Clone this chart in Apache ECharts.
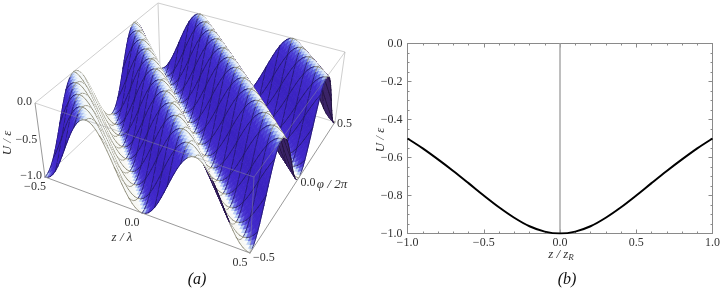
<!DOCTYPE html>
<html>
<head>
<meta charset="utf-8">
<style>html,body{margin:0;padding:0;background:#fff}#c{width:723px;height:288px}#c canvas{filter:blur(0.3px)}</style>
<script src="https://cdn.jsdelivr.net/npm/echarts@6/dist/echarts.min.js"></script>
</head>
<body>
<div id="c"></div>
<script>
// ---------- panel (b) data ----------
const zOverZr = [-1,-0.9,-0.8,-0.7,-0.6,-0.5,-0.4,-0.3,-0.2,-0.1,0,0.1,0.2,0.3,0.4,0.5,0.6,0.7,0.8,0.9,1];
const depthB  = [-0.5,-0.552,-0.61,-0.671,-0.735,-0.8,-0.862,-0.917,-0.962,-0.99,-1,-0.99,-0.962,-0.917,-0.862,-0.8,-0.735,-0.671,-0.61,-0.552,-0.5];
const centreLineX = [0,0];
const centreLineY = [-1,0];
// ---------- panel (a) data ----------
// one period of the corrugation, read across a ridge (valley -> crest -> valley)
const ridgeProfile = [-1,-0.99,-0.962,-0.916,-0.854,-0.778,-0.691,-0.598,-0.5,-0.402,-0.309,-0.222,-0.146,-0.084,-0.038,-0.01,
                      0,-0.01,-0.038,-0.084,-0.146,-0.222,-0.309,-0.402,-0.5,-0.598,-0.691,-0.778,-0.854,-0.916,-0.962,-0.99];
const zTicks3d = [-0.5,0,0.5];
const phiTicks3d = [-0.5,0,0.5];
const uTicks3d = [0,-0.5,-1];

// ---------- 3D view (box corners on the page, with perspective depth) ----------
const view = {
  top:  {a:[35,103,1], b:[254,177,0.9], c:[345,52,1.2], d:[158,3,1.38]},
  base: {a:[45,177,1.07], b:[250,253,0.963], c:[335,122,1.284], d:[160,68,1.477]}
};
const N = 64, MESH = 4;
function proj(z,phi,U){
  const u=z+0.5,v=phi+0.5,h=U+1;
  const ws=[[view.base.a,(1-u)*(1-v)*(1-h)],[view.base.b,u*(1-v)*(1-h)],[view.base.c,u*v*(1-h)],[view.base.d,(1-u)*v*(1-h)],
            [view.top.a,(1-u)*(1-v)*h],[view.top.b,u*(1-v)*h],[view.top.c,u*v*h],[view.top.d,(1-u)*v*h]];
  let x=0,y=0,w=0;
  ws.forEach(e=>{const k=e[1]*e[0][2];x+=k*e[0][0];y+=k*e[0][1];w+=k;});
  return [x/w,y/w];
}
function nodeU(i,j){return ridgeProfile[(i+j)%ridgeProfile.length];}
function nodeP(i,j){return proj(i/N-0.5,j/N-0.5,nodeU(i,j));}

const stops = [[0,[250,252,252]],[0.03,[190,212,246]],[0.06,[110,110,226]],[0.1,[66,42,204]],[0.25,[58,34,192]],[0.39,[66,44,206]],[0.44,[100,110,226]],
  [0.48,[195,218,248]],[0.52,[245,248,250]],[1,[248,248,244]]];
function shade(t){
  for(let k=1;k<stops.length;k++){
    if(t<=stops[k][0]){
      const a=stops[k-1],b=stops[k],f=(t-a[0])/(b[0]-a[0]);
      return 'rgb('+a[1].map((c,n)=>Math.round(c+(b[1][n]-c)*f)).join(',')+')';
    }
  }
  return 'rgb(248,248,244)';
}
// painter's order: far row first, each row left to right
const rows=[];
for(let j=N-1;j>=0;j--)rows.push([j]);

function renderRow(params,api){
  const j=api.value(0);
  const fills=[],lines=[];
  for(let i=0;i<N;i++){
    const P=[[i,j],[i+1,j],[i+1,j+1],[i,j+1]].map(n=>api.coord(nodeP(n[0],n[1])));
    let area=0;
    for(let k=0;k<4;k++){const a=P[k],b=P[(k+1)%4];area+=a[0]*b[1]-b[0]*a[1];}
    const t=((i+j+1)%ridgeProfile.length)/ridgeProfile.length;
    const under=area>0;
    const fill=under?'#3b2468':shade(t);
    const meshCol=under?'#20103a':((t>0.45&&t<0.98)||t<0.03?'#85836f':'#221866');
    fills.push({type:'polygon',shape:{points:P},style:{fill:fill,stroke:fill,lineWidth:0.9,lineJoin:'round'}});
    const seg=(a,b)=>lines.push({type:'line',shape:{x1:a[0],y1:a[1],x2:b[0],y2:b[1]},style:{stroke:meshCol,lineWidth:0.8,lineCap:'round'}});
    if((j+1)%MESH===0)seg(P[3],P[2]);
    if(i%MESH===0)seg(P[0],P[3]);
    if(j===0)seg(P[0],P[1]);
    if(i===N-1)seg(P[1],P[2]);
  }
  return {type:'group',children:fills.concat(lines)};
}
const c3=(q)=>[q[0],q[1]];
const V=view;
const boxEdges=[[V.top.a,V.top.d],[V.top.d,V.top.c],[V.top.c,V.base.c],[V.top.d,V.base.d],[V.base.a,V.base.d],[V.base.d,V.base.c]];
const frontEdges=[[V.top.a,V.top.b],[V.top.b,V.top.c],[V.top.b,V.base.b]];
const axisEdges=[[V.base.a,V.base.b],[V.base.b,V.base.c],[V.top.a,V.base.a]];
function edgeSeries(edges,col,w,zl){
  return {type:'custom',xAxisIndex:0,yAxisIndex:0,coordinateSystem:'cartesian2d',clip:false,silent:true,z:zl,animation:false,
    data:edges.map((e,k)=>[k]),encode:{x:0,y:0},
    renderItem:(p,api)=>{const e=edges[api.value(0)],a=api.coord(c3(e[0])),b=api.coord(c3(e[1]));
      return {type:'line',shape:{x1:a[0],y1:a[1],x2:b[0],y2:b[1]},style:{stroke:col,lineWidth:w}};}};
}
const serif='"Liberation Serif","Times New Roman",serif';
const fmt=v=>v.toFixed(1).replace('-','\u2212');
const T=(x,y,text,o)=>Object.assign({type:'text',x:x,y:y,silent:true,style:Object.assign({text:text,font:'12px '+serif,fill:'#333',align:'center',verticalAlign:'middle'},o||{})});
const texts=[];
uTicks3d.forEach(u=>{const p=proj(-0.5,-0.5,u);texts.push(T(p[0]-3,p[1]-1,fmt(u),{align:'right'}));});
zTicks3d.forEach(z=>{const p=proj(z,-0.5,-1);texts.push(T(p[0]-10,p[1]+9.5,fmt(z)));});
phiTicks3d.forEach(f=>{const p=proj(0.5,f,-1);texts.push(T(p[0]+(f===-0.5?3:2),p[1]+(f===0.5?2:5),fmt(f),{align:'left'}));});
texts.push(T(122,238,'z / \u03bb',{font:'italic 13px '+serif}));
texts.push(T(332,185,'\u03c6 / 2\u03c0',{font:'italic 13px '+serif}));
texts.push({type:'text',x:8,y:143,rotation:Math.PI/2,silent:true,style:{text:'U / \u03b5',font:'italic 13px '+serif,fill:'#333',align:'center',verticalAlign:'middle'}});
texts.push(T(197,280,'(a)',{font:'italic 16px '+serif,fill:'#111'}));
texts.push(T(567,280,'(b)',{font:'italic 16px '+serif,fill:'#111'}));

const frame='#8a8a8a';
const axisBase={min:-1,max:1,interval:0.5,gridIndex:1};
const lab={fontFamily:serif,fontSize:12,color:'#333'};
const chart=echarts.init(document.getElementById('c'),null,{renderer:'canvas'});
chart.setOption({
  animation:false,backgroundColor:'#fff',
  grid:[{left:0,top:0,width:723,height:288,show:false},{left:407.5,top:43.5,width:307.5,height:190,show:false}],
  xAxis:[
    {type:'value',gridIndex:0,min:0,max:723,show:false},
    Object.assign({type:'value',position:'bottom',axisLine:{onZero:false,lineStyle:{color:frame,width:1}},axisTick:{inside:true,length:4,lineStyle:{color:frame}},minorTick:{show:true,splitNumber:5,length:2,lineStyle:{color:frame}},splitLine:{show:false},
      axisLabel:Object.assign({},lab,{formatter:fmt,margin:3,showMinLabel:true,showMaxLabel:true,hideOverlap:false})},axisBase),
    Object.assign({type:'value',position:'top',axisLine:{onZero:false,lineStyle:{color:frame,width:1}},axisTick:{inside:true,length:4,lineStyle:{color:frame}},minorTick:{show:true,splitNumber:5,length:2,lineStyle:{color:frame}},splitLine:{show:false},axisLabel:{show:false}},axisBase)
  ],
  yAxis:[
    {type:'value',gridIndex:0,min:0,max:288,inverse:true,show:false},
    {type:'value',gridIndex:1,min:-1,max:0,interval:0.2,position:'left',axisLine:{onZero:false,lineStyle:{color:frame,width:1}},axisTick:{inside:true,length:4,lineStyle:{color:frame}},minorTick:{show:true,splitNumber:4,length:2,lineStyle:{color:frame}},splitLine:{show:false},
      axisLabel:Object.assign({},lab,{formatter:fmt,margin:5,showMinLabel:true,showMaxLabel:true})},
    {type:'value',gridIndex:1,min:-1,max:0,interval:0.2,position:'right',axisLine:{onZero:false,lineStyle:{color:frame,width:1}},axisTick:{inside:true,length:4,lineStyle:{color:frame}},minorTick:{show:true,splitNumber:4,length:2,lineStyle:{color:frame}},splitLine:{show:false},axisLabel:{show:false}}
  ],
  graphic:{elements:texts.concat([
    {type:'text',x:561,y:255,silent:true,style:{rich:{i:{font:'italic 13px '+serif,fill:'#333'},s:{font:'italic 9px '+serif,fill:'#333',verticalAlign:'bottom',padding:[6,0,0,0]}},text:'{i|z / z}{s|R}',align:'center',verticalAlign:'middle'}},
    {type:'text',x:381,y:140,rotation:Math.PI/2,silent:true,style:{text:'U / \u03b5',font:'italic 13px '+serif,fill:'#333',align:'center',verticalAlign:'middle'}}
  ])},
  series:[
    edgeSeries(boxEdges,'#cfcfcf',1,1),
    {type:'custom',coordinateSystem:'cartesian2d',xAxisIndex:0,yAxisIndex:0,clip:false,silent:true,z:2,progressive:0,animation:false,
      data:rows,encode:{x:0},renderItem:renderRow},
    edgeSeries(frontEdges,'rgba(150,150,150,0.55)',0.8,3),
    edgeSeries(axisEdges,'#9a9a9a',1,3),
    {type:'line',xAxisIndex:1,yAxisIndex:1,data:centreLineX.map((x,k)=>[x,centreLineY[k]]),showSymbol:false,lineStyle:{color:'#a8a8a8',width:1.5},silent:true,z:4},
    {type:'line',xAxisIndex:1,yAxisIndex:1,data:zOverZr.map((x,k)=>[x,depthB[k]]),showSymbol:false,smooth:0.3,lineStyle:{color:'#000',width:2},silent:true,z:5}
  ]
});
</script>
</body>
</html>
